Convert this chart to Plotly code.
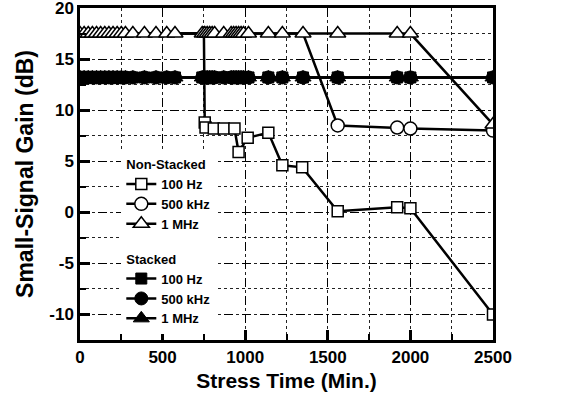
import plotly.graph_objects as go

# ---------------- data ----------------
# Non-stacked, 100 Hz (squares)
ns_100hz_t = [0, 750, 755, 760, 810, 870, 935, 960, 1015, 1140, 1225, 1345, 1560, 1920, 2000, 2500]
ns_100hz_v = [17.5, 17.5, 8.8, 8.3, 8.2, 8.2, 8.2, 5.9, 7.3, 7.8, 4.6, 4.4, 0.1, 0.5, 0.4, -10.0]

# Non-stacked, 500 kHz (circles)
ns_500khz_t = [0, 1350, 1560, 1920, 2000, 2500]
ns_500khz_v = [17.5, 17.5, 8.5, 8.3, 8.2, 8.0]

# Non-stacked, 1 MHz (triangles)
ns_1mhz_t = [0, 25, 50, 75, 100, 125, 150, 175, 200, 225, 250, 275, 320, 390, 460, 525, 575,
             740, 755, 770, 785, 800, 815, 870, 915, 930, 945, 960, 975, 990, 1020, 1140, 1225, 1350,
             1560, 1920, 2000, 2500]
ns_1mhz_v = [17.5, 17.5, 17.5, 17.5, 17.5, 17.5, 17.5, 17.5, 17.5, 17.5, 17.5, 17.5, 17.5, 17.5, 17.5, 17.5, 17.5,
             17.5, 17.5, 17.5, 17.5, 17.5, 17.5, 17.5, 17.5, 17.5, 17.5, 17.5, 17.5, 17.5, 17.5, 17.5, 17.5, 17.5,
             17.5, 17.5, 17.5, 8.6]

# Stacked (all three frequencies)
st_t = [0, 25, 50, 75, 100, 125, 150, 175, 200, 225, 250, 275, 320, 390, 460, 525, 575,
        740, 755, 770, 785, 800, 815, 870, 915, 930, 945, 960, 975, 990, 1020, 1140, 1225, 1350,
        1560, 1920, 2000, 2500]
st_100hz_v = [13.2, 13.2, 13.2, 13.2, 13.2, 13.2, 13.2, 13.2, 13.2, 13.2, 13.2, 13.2, 13.2, 13.2, 13.2, 13.2, 13.2,
              13.2, 13.2, 13.2, 13.2, 13.2, 13.2, 13.2, 13.2, 13.2, 13.2, 13.2, 13.2, 13.2, 13.2, 13.2, 13.2, 13.2,
              13.2, 13.2, 13.2, 13.2]
st_500khz_v = [13.2, 13.2, 13.2, 13.2, 13.2, 13.2, 13.2, 13.2, 13.2, 13.2, 13.2, 13.2, 13.2, 13.2, 13.2, 13.2, 13.2,
               13.2, 13.2, 13.2, 13.2, 13.2, 13.2, 13.2, 13.2, 13.2, 13.2, 13.2, 13.2, 13.2, 13.2, 13.2, 13.2, 13.2,
               13.2, 13.2, 13.2, 13.2]
st_1mhz_v = [13.2, 13.2, 13.2, 13.2, 13.2, 13.2, 13.2, 13.2, 13.2, 13.2, 13.2, 13.2, 13.2, 13.2, 13.2, 13.2, 13.2,
             13.2, 13.2, 13.2, 13.2, 13.2, 13.2, 13.2, 13.2, 13.2, 13.2, 13.2, 13.2, 13.2, 13.2, 13.2, 13.2, 13.2,
             13.2, 13.2, 13.2, 13.2]

series_names = ["100 Hz", "500 kHz", "1 MHz"]
x_tick_vals = [0, 500, 1000, 1500, 2000, 2500]
x_tick_text = ["0", "500", "1000", "1500", "2000", "2500"]
y_tick_vals = [-10, -5, 0, 5, 10, 15, 20]
y_tick_text = ["-10", "-5", "0", "5", "10", "15", "20"]

# ---------------- figure ----------------
FONT = "Liberation Sans, Arial, sans-serif"
LW = 2.5
fig = go.Figure()


def split_plateau(t, v, level=17.5):
    # plateau part (line only, markers hidden under triangles) and the visible remainder
    k = max(i for i, val in enumerate(v) if val == level)
    return (t[:k + 2], v[:k + 2]), (t[k + 1:], v[k + 1:])


# line-only plateaus of squares/circles
for t, v in [(ns_100hz_t, ns_100hz_v), (ns_500khz_t, ns_500khz_v)]:
    (pt, pv), _ = split_plateau(t, v)
    fig.add_trace(go.Scatter(x=pt, y=pv, mode="lines", line=dict(color="black", width=LW),
                             showlegend=False, hoverinfo="skip"))

(_, _), (sq_t, sq_v) = split_plateau(ns_100hz_t, ns_100hz_v)
(_, _), (ci_t, ci_v) = split_plateau(ns_500khz_t, ns_500khz_v)

ns_specs = [
    (sq_t, sq_v, "square", 11),
    (ci_t, ci_v, "circle", 13),
    (ns_1mhz_t, ns_1mhz_v, "triangle-up", 14),
]
for i, (t, v, sym, sz) in enumerate(ns_specs):
    fig.add_trace(go.Scatter(
        x=t, y=v, mode="lines+markers", name=series_names[i],
        line=dict(color="black", width=LW),
        marker=dict(symbol=sym, size=sz, color="white", line=dict(color="black", width=1.5)),
        legendgroup="ns", legendgrouptitle_text="Non-Stacked",
    ))

st_specs = [
    (st_t, st_100hz_v, "square", 11),
    (st_t, st_500khz_v, "circle", 13),
    (st_t, st_1mhz_v, "triangle-up", 14),
]
for i, (t, v, sym, sz) in enumerate(st_specs):
    fig.add_trace(go.Scatter(
        x=t, y=v, mode="lines+markers", name=series_names[i],
        line=dict(color="black", width=LW),
        marker=dict(symbol=sym, size=sz, color="black", line=dict(color="black", width=1)),
        legendgroup="st", legendgrouptitle_text="Stacked",
    ))

axis_common = dict(
    showline=True, mirror=True, linecolor="black", linewidth=2.5,
    ticks="inside", tickcolor="black", ticklen=10, tickwidth=3,
    showgrid=True, gridcolor="black", gridwidth=1.2, griddash="dash",
    zeroline=False, automargin=False, ticklabeloverflow="allow",
    tickfont=dict(family=FONT, size=17, color="black", weight="bold"),
)

fig.update_xaxes(
    range=[0, 2500], tickvals=x_tick_vals, ticktext=x_tick_text,
    minor=dict(dtick=250, tick0=0, ticks="inside", ticklen=6, tickwidth=2, tickcolor="black",
               showgrid=True, gridcolor="#222", gridwidth=1, griddash="dot"),
    title=dict(text="Stress Time (Min.)", font=dict(family=FONT, size=21, color="black", weight="bold"),
               standoff=8),
    **axis_common,
)
fig.update_yaxes(
    range=[-12.5, 20], tickvals=y_tick_vals, ticktext=y_tick_text,
    minor=dict(dtick=2.5, tick0=0, ticks="inside", ticklen=6, tickwidth=2, tickcolor="black",
               showgrid=True, gridcolor="#222", gridwidth=1, griddash="dot"),
    title=dict(text="Small-Signal Gain (dB)", font=dict(family=FONT, size=23, color="black", weight="bold"),
               standoff=10),
    **axis_common,
)

fig.update_layout(
    width=565, height=404,
    margin=dict(l=80, r=72, t=8, b=64),
    paper_bgcolor="white", plot_bgcolor="white",
    showlegend=True,
    legend=dict(
        x=0.1, y=0.575, xanchor="left", yanchor="top",
        bgcolor="white", borderwidth=0,
        font=dict(family=FONT, size=13, color="black", weight="bold"),
        grouptitlefont=dict(family=FONT, size=13, color="black", weight="bold"),
        tracegroupgap=15, itemwidth=30,
    ),
)

fig.write_html("out.html")
